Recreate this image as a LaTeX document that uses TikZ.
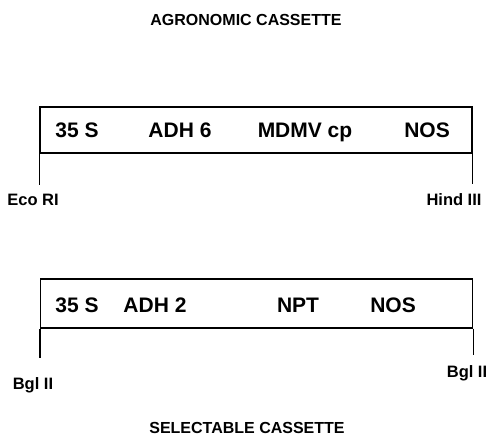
\documentclass[tikz,border=0pt]{standalone}
\usepackage{fontspec}
\setmainfont{Liberation Sans}
\tikzset{
  cassette/.style={rectangle, draw, line width=1.2pt, minimum width=432pt, inner sep=0pt},
  gene/.style={anchor=base, inner sep=0pt, font=\fontsize{21}{22}\selectfont\bfseries},
  site/.style={anchor=base, inner sep=0pt, font=\fontsize{16.5}{17}\selectfont\bfseries},
  heading/.style={anchor=base, inner sep=0pt, font=\fontsize{16}{17}\selectfont\bfseries},
  tick/.style={line width=1.2pt}
}
\begin{document}
\begin{tikzpicture}[x=1pt, y=-1pt]
\useasboundingbox (0,0) rectangle (490,437);

% agronomic cassette
\node[heading] (agrotitle) at (246,25) {AGRONOMIC CASSETTE};
\node[cassette, minimum height=46pt] (agro) at (256,130) {};
\node[gene] (agro35s) at (77,137) {35 S};
\node[gene] (adh6) at (180,137) {ADH 6};
\node[gene] (mdmv) at (305,137) {MDMV cp};
\node[gene] (agronos) at (427,137) {NOS};
\coordinate (ecoend) at (agro.south west |- 0,185);
\coordinate (hindend) at (agro.south east |- 0,184);
\draw[tick] (agro.south west) -- (ecoend);
\draw[tick] (agro.south east) -- (hindend);
\node[site] (ecori) at (33,205) {Eco RI};
\node[site] (hind) at (454,205) {Hind III};

% selectable cassette
\node[cassette, minimum height=49pt] (sel) at (256.5,303.5) {};
\node[gene] (sel35s) at (77,312) {35 S};
\node[gene] (adh2) at (155,312) {ADH 2};
\node[gene] (npt) at (298,312) {NPT};
\node[gene] (selnos) at (393,312) {NOS};
\coordinate (bglleftend) at (sel.south west |- 0,358);
\coordinate (bglrightend) at (sel.south east |- 0,355);
\draw[tick] (sel.south west) -- (bglleftend);
\draw[tick] (sel.south east) -- (bglrightend);
\node[site] (bglleft) at (33,389) {Bgl II};
\node[site] (bglright) at (467,377) {Bgl II};
\node[heading] (seltitle) at (247,433) {SELECTABLE CASSETTE};
\end{tikzpicture}
\end{document}
